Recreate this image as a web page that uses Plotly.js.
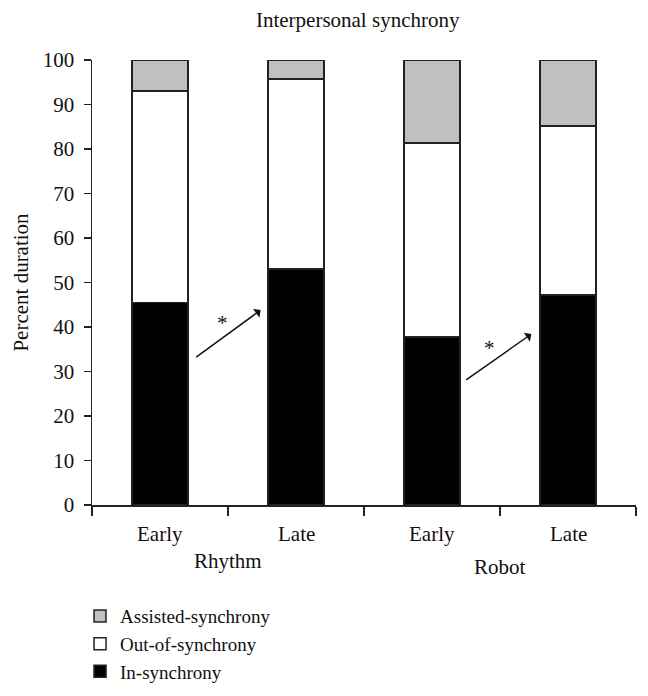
<!DOCTYPE html>
<html>
<head>
<meta charset="utf-8">
<script src="https://cdn.plot.ly/plotly-3.0.1.min.js"></script>
<style>body{margin:0;background:#fff;} #chart{width:648px;height:696px;}</style>
</head>
<body>
<div id="chart"></div>
<script>
const categories = ["Rhythm-Early", "Rhythm-Late", "Robot-Early", "Robot-Late"];
const phaseLabels = ["Early", "Late", "Early", "Late"];
const groupLabels = ["Rhythm", "Robot"];
const inSync = [45.5, 53.0, 37.8, 47.2];
const outSync = [47.5, 42.7, 43.5, 38.0];
const assisted = [7.0, 4.3, 18.7, 14.8];
const yTicks = [0, 10, 20, 30, 40, 50, 60, 70, 80, 90, 100];

const FONT = "Liberation Serif, Times New Roman, serif";
const FS = 21;
const line = {color: "#222", width: 1.5};

const traces = [
  {type: "bar", name: "In-synchrony", x: categories, y: inSync, width: 0.41,
   marker: {color: "#000000", line: line}},
  {type: "bar", name: "Out-of-synchrony", x: categories, y: outSync, width: 0.41,
   marker: {color: "#ffffff", line: line}},
  {type: "bar", name: "Assisted-synchrony", x: categories, y: assisted, width: 0.41,
   marker: {color: "#c0c0c0", line: line}}
];

const annotations = [];
phaseLabels.forEach((t, i) => {
  annotations.push({xref: "x", yref: "paper", x: i, y: -0.034, yanchor: "top",
    text: t, showarrow: false, font: {family: FONT, size: FS, color: "#111"}});
});
annotations.push({xref: "x", yref: "paper", x: 0.5, y: -0.095, yanchor: "top",
  text: groupLabels[0], showarrow: false, font: {family: FONT, size: FS, color: "#111"}});
annotations.push({xref: "x", yref: "paper", x: 2.5, y: -0.108, yanchor: "top",
  text: groupLabels[1], showarrow: false, font: {family: FONT, size: FS, color: "#111"}});
// significance arrows
const arrows = [
  {x: 0.74, y: 43.8, ax: 0.255, ay: 33.0, sx: 0.456, sy: 40.9},
  {x: 2.73, y: 38.4, ax: 2.24, ay: 27.9, sx: 2.42, sy: 35.3}
];
arrows.forEach(a => {
  annotations.push({xref: "x", yref: "y", axref: "x", ayref: "y",
    x: a.x, y: a.y, ax: a.ax, ay: a.ay, text: "", showarrow: true,
    arrowhead: 1, arrowsize: 1.2, arrowwidth: 1.5, arrowcolor: "#111"});
  annotations.push({xref: "x", yref: "y", x: a.sx, y: a.sy, text: "*",
    showarrow: false, font: {family: FONT, size: 21, color: "#111"}});
});

const layout = {
  width: 648, height: 696,
  margin: {l: 92, r: 12, t: 60, b: 191, autoexpand: false},
  paper_bgcolor: "#fff", plot_bgcolor: "#fff",
  barmode: "stack",
  font: {family: FONT, size: FS, color: "#111"},
  title: {text: "Interpersonal synchrony", x: 0.552, xanchor: "center", y: 0.972, yanchor: "middle",
    font: {family: FONT, size: FS, color: "#111"}},
  xaxis: {type: "category", tickson: "boundaries", ticks: "outside", ticklen: 9,
    tickwidth: 1.5, tickcolor: "#222", showticklabels: false, showline: true,
    linecolor: "#222", linewidth: 1.5, showgrid: false, zeroline: false,
    range: [-0.5, 3.5], automargin: false},
  yaxis: {range: [0, 100], tickvals: yTicks, ticks: "outside", ticklen: 7,
    tickwidth: 1.5, tickcolor: "#222", showline: true, linecolor: "#222",
    linewidth: 1.5, showgrid: false, zeroline: false, ticklabelstandoff: 5,
    automargin: false,
    tickfont: {family: FONT, size: FS, color: "#111"},
    title: {text: "Percent duration", standoff: 8, font: {family: FONT, size: FS, color: "#111"}}},
  showlegend: true,
  legend: {x: -0.022, xanchor: "left", y: -0.207, yanchor: "top", traceorder: "reversed",
    font: {family: FONT, size: 19, color: "#111"}, bgcolor: "rgba(0,0,0,0)", itemwidth: 30,
    tracegroupgap: 0},
  annotations: annotations
};

Plotly.newPlot("chart", traces, layout, {displayModeBar: false, staticPlot: true});
</script>
</body>
</html>
